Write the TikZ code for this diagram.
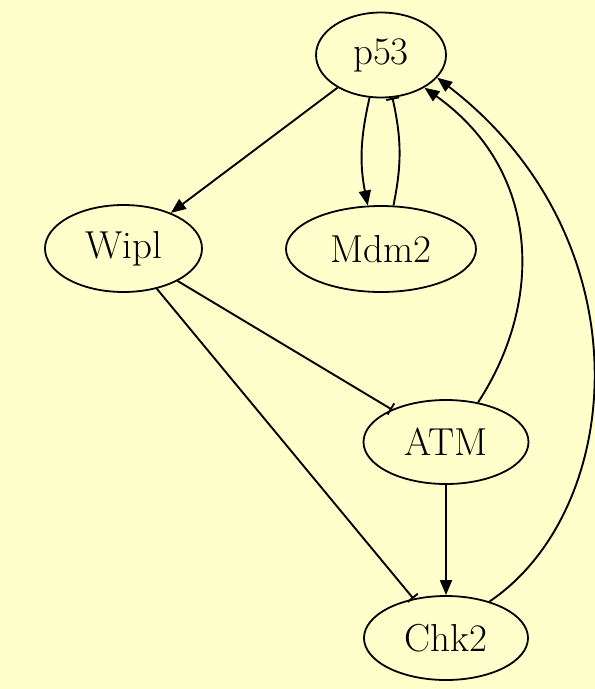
\documentclass[tikz,border=0pt]{standalone}
\usetikzlibrary{shapes.geometric,arrows.meta}
\definecolor{bgyellow}{RGB}{255,255,204}
\begin{document}
\begin{tikzpicture}[x=1pt,y=-1pt,
  gene/.style={draw, ellipse, line width=1.8pt, inner sep=0pt, font=\fontsize{39}{47}\selectfont},
  act/.style={line width=1.9pt, -{Triangle[length=15pt,width=12pt]}},
  inh/.style={line width=1.9pt, -{Bar[width=13pt,line width=1.9pt]}}]
\fill[bgyellow] (0,0) rectangle (595,689);
\useasboundingbox (0,0) rectangle (595,689);
\node[gene, minimum width=130pt, minimum height=85pt] (p53) at (381,55) {p53};
\node[gene, minimum width=157pt, minimum height=87pt] (wipl) at (123.5,248.5) {Wipl};
\node[gene, minimum width=190pt, minimum height=86pt] (mdm2) at (381,249) {Mdm2};
\node[gene, minimum width=165pt, minimum height=84pt] (atm) at (446,442) {ATM};
\node[gene, minimum width=164pt, minimum height=84pt] (chk2) at (446,638) {Chk2};
\draw[act] (p53) -- (wipl);
\draw[act] (p53.-105) to[bend right=12] (mdm2.107);
\draw[inh] (mdm2.74) to[bend right=12] (p53.-75);
\draw[inh] (wipl) -- (atm);
\draw[inh] (wipl) -- (chk2);
\draw[act] (atm) -- (chk2);
\draw[act] (atm.51) .. controls (545,300) and (540,170) .. (p53.-37);
\draw[act] (chk2.40) .. controls (625,510) and (648,240) .. (p53.-22);
\end{tikzpicture}
\end{document}
